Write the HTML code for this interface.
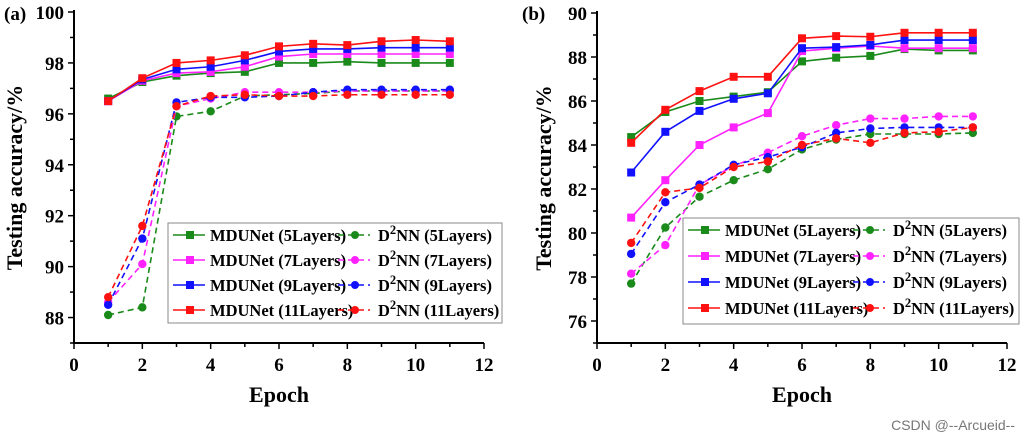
<!DOCTYPE html>
<html><head><meta charset="utf-8"><style>
html,body{margin:0;padding:0;background:#fff;}
svg{display:block;font-family:"Liberation Serif",serif;font-weight:bold;}
</style></head><body>
<svg id="c" width="1026" height="441" viewBox="0 0 1026 441"></svg>
<script>
const epochs=[1,2,3,4,5,6,7,8,9,10,11];
const seriesNames=["MDUNet (5Layers)","MDUNet (7Layers)","MDUNet (9Layers)","MDUNet (11Layers)","D2NN (5Layers)","D2NN (7Layers)","D2NN (9Layers)","D2NN (11Layers)"];
const aMDU5=[96.6,97.25,97.5,97.6,97.65,98.0,98.0,98.05,98.0,98.0,98.0];
const aMDU7=[96.5,97.3,97.6,97.65,97.85,98.25,98.35,98.35,98.35,98.35,98.35];
const aMDU9=[96.5,97.35,97.75,97.85,98.1,98.45,98.55,98.55,98.6,98.6,98.6];
const aMDU11=[96.5,97.4,98.0,98.1,98.3,98.65,98.75,98.7,98.85,98.9,98.85];
const aD5=[88.1,88.4,95.9,96.1,96.7,96.75,96.8,96.9,96.9,96.9,96.9];
const aD7=[88.6,90.1,96.3,96.6,96.85,96.85,96.85,96.9,96.9,96.9,96.9];
const aD9=[88.5,91.1,96.45,96.65,96.65,96.7,96.85,96.95,96.95,96.95,96.95];
const aD11=[88.8,91.6,96.3,96.7,96.75,96.7,96.7,96.75,96.75,96.75,96.75];
const bMDU5=[84.36,85.5,86.0,86.2,86.4,87.8,87.97,88.05,88.36,88.3,88.3];
const bMDU7=[80.7,82.4,84.0,84.8,85.45,88.27,88.4,88.5,88.4,88.4,88.4];
const bMDU9=[82.75,84.6,85.55,86.1,86.35,88.4,88.45,88.55,88.77,88.77,88.77];
const bMDU11=[84.1,85.6,86.45,87.1,87.1,88.85,88.95,88.92,89.1,89.1,89.1];
const bD5=[77.7,80.25,81.65,82.4,82.9,83.8,84.25,84.5,84.5,84.5,84.55];
const bD7=[78.15,79.45,82.2,83.05,83.65,84.4,84.9,85.2,85.2,85.3,85.3];
const bD9=[79.05,81.4,82.2,83.1,83.45,83.9,84.55,84.75,84.8,84.8,84.8];
const bD11=[79.55,81.85,82.05,83.0,83.25,84.0,84.3,84.1,84.55,84.6,84.8];
const xTicks=[0,2,4,6,8,10,12];
const aYTicks=[88,90,92,94,96,98,100];
const bYTicks=[76,78,80,82,84,86,88,90];
const colors=["#1a8a1a","#ff22ff","#1111ff","#ff1111"];

const svg=document.getElementById('c');
const NS="http://www.w3.org/2000/svg";
function mk(tag,attrs,parent){const e=document.createElementNS(NS,tag);for(const k in attrs)e.setAttribute(k,attrs[k]);(parent||svg).appendChild(e);return e;}

function panel(cfg){
  const g=mk('g',{});
  
  
  const X=v=>cfg.x0+(v-0)*(cfg.x1-cfg.x0)/12;
  const Y=v=>cfg.yB-(v-cfg.yMin)*(cfg.yB-cfg.yT)/(cfg.yMax-cfg.yMin);
  const ax=mk('path',{d:`M${cfg.x0} ${cfg.yT-2}V${cfg.yB}H${cfg.x1}`,stroke:'#000','stroke-width':2,fill:'none'},g);
  
  
  for(let v=0;v<=12;v+=1){
    const major=v%2===0;
    mk('line',{x1:X(v),x2:X(v),y1:cfg.yB,y2:cfg.yB+(major?6:4),stroke:'#000','stroke-width':1.5},g);
  }
  xTicks.forEach(v=>{
    const t=mk('text',{x:X(v),y:cfg.yB+28,'text-anchor':'middle','font-size':19},g);
    t.textContent=v;
    
    
  });
  const yt=cfg.yTicks;
  for(let i=0;i<yt.length;i++){
    mk('line',{x1:cfg.x0-6,x2:cfg.x0,y1:Y(yt[i]),y2:Y(yt[i]),stroke:'#000','stroke-width':1.5},g);
    const t=mk('text',{x:cfg.x0-10,y:Y(yt[i])+7,'text-anchor':'end','font-size':19},g);
    t.textContent=yt[i];
    
    
  }
  for(let v=yt[0]-1;v<yt[yt.length-1];v+=2){
    if(v<cfg.yMin) continue;
    mk('line',{x1:cfg.x0-4,x2:cfg.x0,y1:Y(v),y2:Y(v),stroke:'#000','stroke-width':1.5},g);
  }
  const xt=mk('text',{x:(cfg.x0+cfg.x1)/2,y:cfg.yB+59,'text-anchor':'middle','font-size':22},g);
  xt.textContent='Epoch';
  
  
  const yc=(cfg.yT+cfg.yB)/2;
  const ytt=mk('text',{x:cfg.titleX,y:yc,'text-anchor':'middle','font-size':22,transform:`rotate(-90 ${cfg.titleX} ${yc})`},g);
  ytt.textContent='Testing accuracy/%';
  
  
  const pl=mk('text',{x:cfg.labelX,y:20,'font-size':19},g);
  pl.textContent=cfg.label;
  
  
  cfg.series.forEach((s,i)=>{
    const dashed=i>=4, c=colors[i%4];
    const pts=s.map((v,j)=>X(epochs[j])+','+Y(v)).join(' ');
    const line=mk('polyline',{points:pts,fill:'none',stroke:c,'stroke-width':1.6,'stroke-dasharray':dashed?'6 4':'none'},g);
    
    
    s.forEach((v,j)=>{
      let m;
      if(dashed) m=mk('circle',{cx:X(epochs[j]),cy:Y(v),r:4.2,fill:c},g);
      else m=mk('rect',{x:X(epochs[j])-4,y:Y(v)-4,width:8,height:8,fill:c},g);
      
      
    });
  });
  const L=cfg.leg;
  const lg=mk('g',{},g);
  
  
  mk('rect',{x:L.x,y:L.y,width:L.w,height:L.h,fill:'#fff',stroke:'#888','stroke-width':1},lg);
  for(let r=0;r<4;r++){
    const yy=L.y+12+r*L.dy;
    [0,1].forEach(col=>{
      const i=r+col*4, c=colors[r];
      const lx=L.x+(col?170:5);
      const e=mk('g',{},lg);
      
      
      mk('line',{x1:lx,x2:lx+32,y1:yy,y2:yy,stroke:c,'stroke-width':1.6,'stroke-dasharray':col?'6 4':'none'},e);
      if(col) mk('circle',{cx:lx+17,cy:yy,r:4,fill:c},e);
      else mk('rect',{x:lx+13,y:yy-4,width:8,height:8,fill:c},e);
      const t=mk('text',{x:lx+(col?40:37),y:yy+6,'font-size':16.5},e);
      if(col){
        const base=seriesNames[r].replace('MDUNet ','');
        t.innerHTML='D<tspan dy="-7" font-size="12.5">2</tspan><tspan dy="7">NN '+base+'</tspan>';
      } else t.textContent=seriesNames[r];
    });
  }
}
panel({id:'a',label:'(a)',labelX:4,x0:74,x1:484,yT:12,yB:343,yMin:87,yMax:100,yTicks:aYTicks,titleX:22,
  series:[aMDU5,aMDU7,aMDU9,aMDU11,aD5,aD7,aD9,aD11],leg:{x:168,y:223,w:334,h:100,dy:25}});
panel({id:'b',label:'(b)',labelX:522,x0:597,x1:1007,yT:13,yB:343,yMin:75,yMax:90,yTicks:bYTicks,titleX:551,
  series:[bMDU5,bMDU7,bMDU9,bMDU11,bD5,bD7,bD9,bD11],leg:{x:683,y:218,w:336,h:106,dy:26}});
const wm=mk('text',{x:1015,y:430,'text-anchor':'end','font-size':14,fill:'#777','font-weight':'normal','font-family':'Liberation Sans, sans-serif'});
wm.textContent='CSDN @--Arcueid--';


</script>
</body></html>
